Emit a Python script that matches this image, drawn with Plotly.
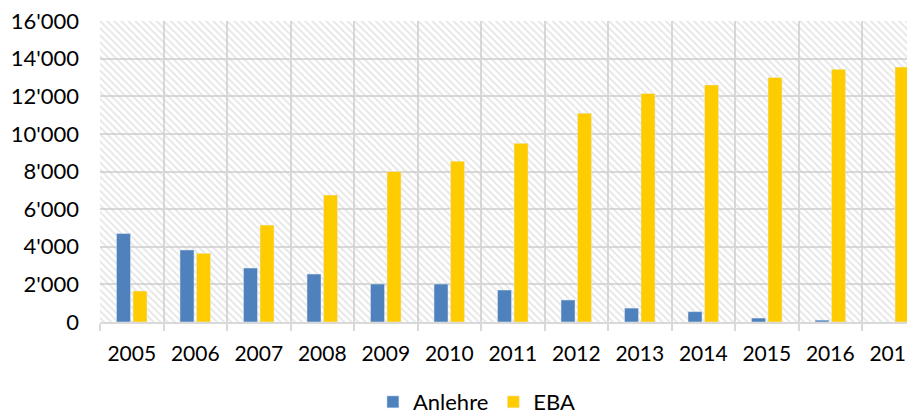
import plotly.graph_objects as go

years = ["2005", "2006", "2007", "2008", "2009", "2010", "2011", "2012", "2013", "2014", "2015", "2016", "2017"]
anlehre = [4700, 3830, 2870, 2550, 2020, 2020, 1700, 1170, 740, 550, 210, 100, 0]
eba = [1650, 3650, 5150, 6750, 8000, 8550, 9500, 11100, 12150, 12600, 13000, 13430, 13550]
y_max = 16000
y_step = 2000

FONT = "Lato"
GRID = "#d9d9d9"

fig = go.Figure()

# hatched plot-area background (decoration on hidden base axes)
fig.add_trace(go.Scatter(
    x=[0, 1, 1, 0, 0], y=[0, 0, 1, 1, 0],
    xaxis="x", yaxis="y",
    mode="lines", line=dict(width=0),
    fill="toself", fillcolor="rgba(0,0,0,0)",
    fillpattern=dict(shape="\\", fgcolor="#cccccc", bgcolor="rgba(0,0,0,0)",
                     size=5, solidity=0.35),
    hoverinfo="skip", showlegend=False,
))

fig.add_trace(go.Bar(name="Anlehre", x=years, y=anlehre, marker_color="#4f81bd",
                     xaxis="x2", yaxis="y2"))
fig.add_trace(go.Bar(name="EBA", x=years, y=eba, marker_color="#ffcc00",
                     xaxis="x2", yaxis="y2"))

fig.update_layout(
    width=915, height=414,
    margin=dict(l=92, r=0, t=13, b=100, autoexpand=False),
    paper_bgcolor="white", plot_bgcolor="white",
    separators=".'",
    font=dict(family=FONT, size=22, color="#000000"),
    barmode="group", bargap=0.48, bargroupgap=0.15,
    xaxis=dict(range=[0, 1], visible=False, showgrid=False, zeroline=False,
               fixedrange=True, automargin=False),
    yaxis=dict(range=[0, 1], visible=False, showgrid=False, zeroline=False,
               fixedrange=True, automargin=False),
    xaxis2=dict(
        overlaying="x", type="category", range=[-0.5, 12.46], automargin=False,
        tickson="boundaries", showgrid=True, gridcolor=GRID, gridwidth=2,
        ticks="outside", ticklen=7, tickcolor=GRID, tickwidth=2,
        showline=True, linecolor=GRID, linewidth=2,
        tickfont=dict(family=FONT, size=21, color="#000000"),
        ticklabelstandoff=12, ticklabeloverflow="allow",
    ),
    yaxis2=dict(
        overlaying="y", range=[0, y_max], dtick=y_step, tickformat=",d", automargin=False,
        showgrid=True, gridcolor=GRID, gridwidth=2, zeroline=False,
        ticks="", showline=False,
        tickfont=dict(family=FONT, size=22, color="#000000"),
        ticklabelstandoff=20, ticklabeloverflow="allow",
    ),
    legend=dict(orientation="h", x=0.458, xanchor="center", y=-0.266, yanchor="middle",
                font=dict(family=FONT, size=22, color="#000000"), traceorder="normal"),
)

fig.write_html("out.html")
